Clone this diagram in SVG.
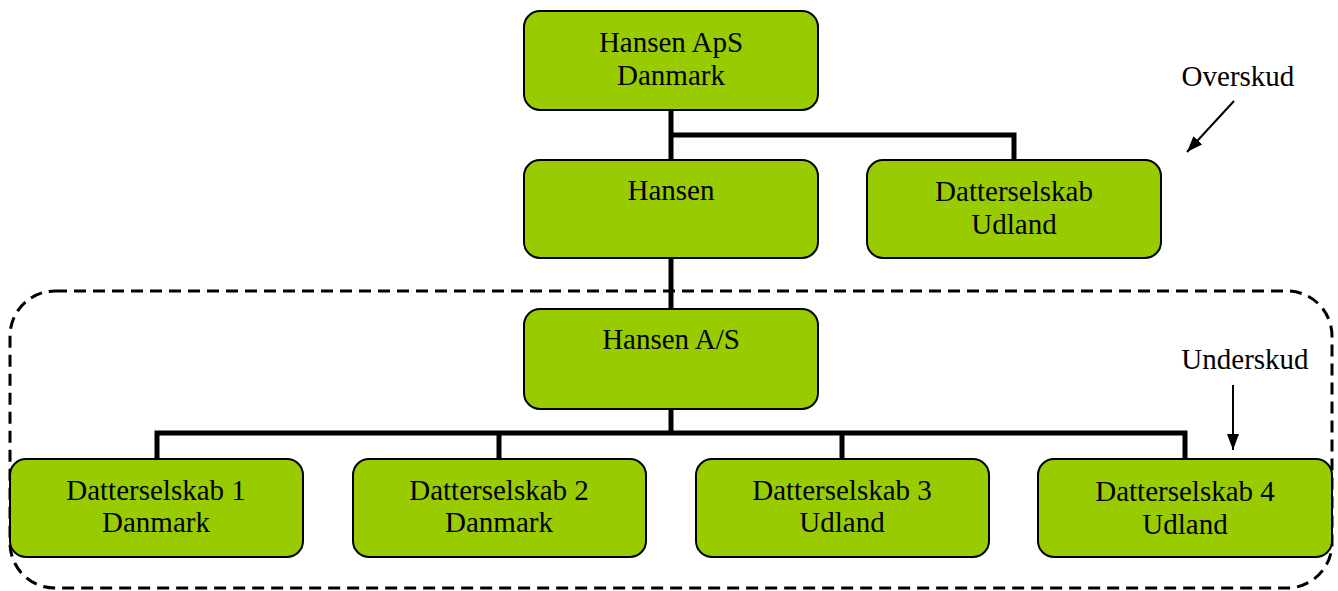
<svg xmlns="http://www.w3.org/2000/svg" width="1338" height="591" viewBox="0 0 1338 591">
<style>
.box{fill:#99cc00;stroke:#000;stroke-width:2}
.t{font-family:"Liberation Serif","Times New Roman",serif;font-size:29px;text-anchor:middle;fill:#000}
.conn{fill:none;stroke:#000;stroke-width:5}
.arr{fill:none;stroke:#000;stroke-width:2}
</style>
<defs>
<marker id="ah" viewBox="0 0 16 12" refX="16" refY="6" markerWidth="16" markerHeight="12" orient="auto" markerUnits="userSpaceOnUse">
<path d="M0,0 L16,6 L0,12 Z" fill="#000"/>
</marker>
</defs>
<rect id="group-boundary" x="10" y="291" width="1322" height="297" rx="45" ry="45" fill="none" stroke="#000" stroke-width="3" stroke-dasharray="12,7"/>
<g id="connectors">
<path class="conn" d="M671,110 V160 M671,135 H1014 V160"/>
<path class="conn" d="M671,258 V309"/>
<path class="conn" d="M671,409 V433 M157,459 V433 H1185 V459 M499,433 V459 M842,433 V459"/>
<path class="arr" d="M1234,101 L1187,152" marker-end="url(#ah)"/>
<path class="arr" d="M1233,385 V450" marker-end="url(#ah)"/>
</g>
<g id="n-hansen-aps"><rect class="box" x="524" y="11" width="294" height="99" rx="16"/><text class="t" x="671" y="52">Hansen ApS</text><text class="t" x="671" y="85">Danmark</text></g>
<g id="n-hansen"><rect class="box" x="524" y="160" width="294" height="98" rx="16"/><text class="t" x="671" y="200">Hansen</text></g>
<g id="n-datter-udland"><rect class="box" x="867" y="160" width="294" height="98" rx="16"/><text class="t" x="1014" y="201">Datterselskab</text><text class="t" x="1014" y="234">Udland</text></g>
<g id="n-hansen-as"><rect class="box" x="524" y="309" width="294" height="100" rx="16"/><text class="t" x="671" y="349">Hansen A/S</text></g>
<g id="n-d1"><rect class="box" x="10" y="459" width="293" height="98" rx="16"/><text class="t" x="156" y="500">Datterselskab 1</text><text class="t" x="156" y="532">Danmark</text></g>
<g id="n-d2"><rect class="box" x="353" y="459" width="293" height="98" rx="16"/><text class="t" x="499" y="500">Datterselskab 2</text><text class="t" x="499" y="532">Danmark</text></g>
<g id="n-d3"><rect class="box" x="696" y="459" width="293" height="98" rx="16"/><text class="t" x="842" y="500">Datterselskab 3</text><text class="t" x="842" y="532">Udland</text></g>
<g id="n-d4"><rect class="box" x="1038" y="459" width="294" height="98" rx="16"/><text class="t" x="1185" y="501">Datterselskab 4</text><text class="t" x="1185" y="534">Udland</text></g>
<g id="labels">
<text class="t" x="1238" y="86">Overskud</text>
<text class="t" x="1245" y="369">Underskud</text>
</g>
</svg>
